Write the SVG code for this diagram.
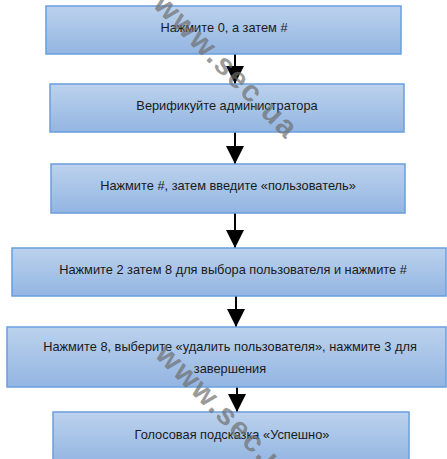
<svg xmlns="http://www.w3.org/2000/svg" width="447" height="459" viewBox="0 0 447 459">
  <defs>
    <linearGradient id="fill" x1="0" y1="0" x2="0" y2="1">
      <stop offset="0" stop-color="#bcd2ed"/>
      <stop offset="1" stop-color="#93b5e2"/>
    </linearGradient>
    <marker id="arrow" markerUnits="userSpaceOnUse" markerWidth="18" markerHeight="18" viewBox="0 0 18 18" refX="18" refY="9" orient="auto">
      <path d="M0,0 L18,9 L0,18 Z" fill="#000"/>
    </marker>
  </defs>
  <style>
    .box { fill: url(#fill); stroke: #6a9fdc; stroke-width: 1.5; }
    .lbl { font-family: "Liberation Sans", Arial, sans-serif; font-size: 12.8px; fill: #1a1a1a; text-anchor: middle; }
    .edge { stroke: #000; stroke-width: 2; fill: none; marker-end: url(#arrow); }
    .wm { font-family: "Liberation Sans", Arial, sans-serif; font-size: 30px; font-weight: bold; letter-spacing: 2px; fill: #6e6e6e; fill-opacity: 0.7; }
  </style>
  <g id="connectors">
    <line class="edge" x1="235" y1="54" x2="235" y2="84"/>
    <line class="edge" x1="235" y1="132" x2="235" y2="164"/>
    <line class="edge" x1="235" y1="213" x2="235" y2="248"/>
    <line class="edge" x1="236" y1="296" x2="236" y2="327"/>
    <line class="edge" x1="237" y1="387" x2="237" y2="412"/>
  </g>
  <g id="n1">
    <rect class="box" x="46" y="6" width="355" height="48"/>
    <text class="lbl" x="224" y="32">Нажмите 0, а затем #</text>
  </g>
  <g id="n2">
    <rect class="box" x="50" y="84" width="354" height="48"/>
    <text class="lbl" x="227" y="110">Верификуйте администратора</text>
  </g>
  <g id="n3">
    <rect class="box" x="51" y="164" width="354" height="49"/>
    <text class="lbl" x="228" y="190">Нажмите #, затем введите «пользователь»</text>
  </g>
  <g id="n4">
    <rect class="box" x="12" y="248" width="434" height="48"/>
    <text class="lbl" x="233" y="274">Нажмите 2 затем 8 для выбора пользователя и нажмите #</text>
  </g>
  <g id="n5">
    <rect class="box" x="7" y="327" width="439" height="60"/>
    <text class="lbl" x="230" y="351">Нажмите 8, выберите «удалить пользователя», нажмите 3 для</text>
    <text class="lbl" x="230" y="373">завершения</text>
  </g>
  <g id="n6">
    <rect class="box" x="53" y="412" width="356" height="52"/>
    <text class="lbl" x="232" y="439">Голосовая подсказка «Успешно»</text>
  </g>
  <g id="watermark">
    <text class="wm" transform="translate(152,6) rotate(45)">www.sec.ua</text>
    <text class="wm" transform="translate(154,356) rotate(45)">www.sec.ua</text>
  </g>
</svg>
